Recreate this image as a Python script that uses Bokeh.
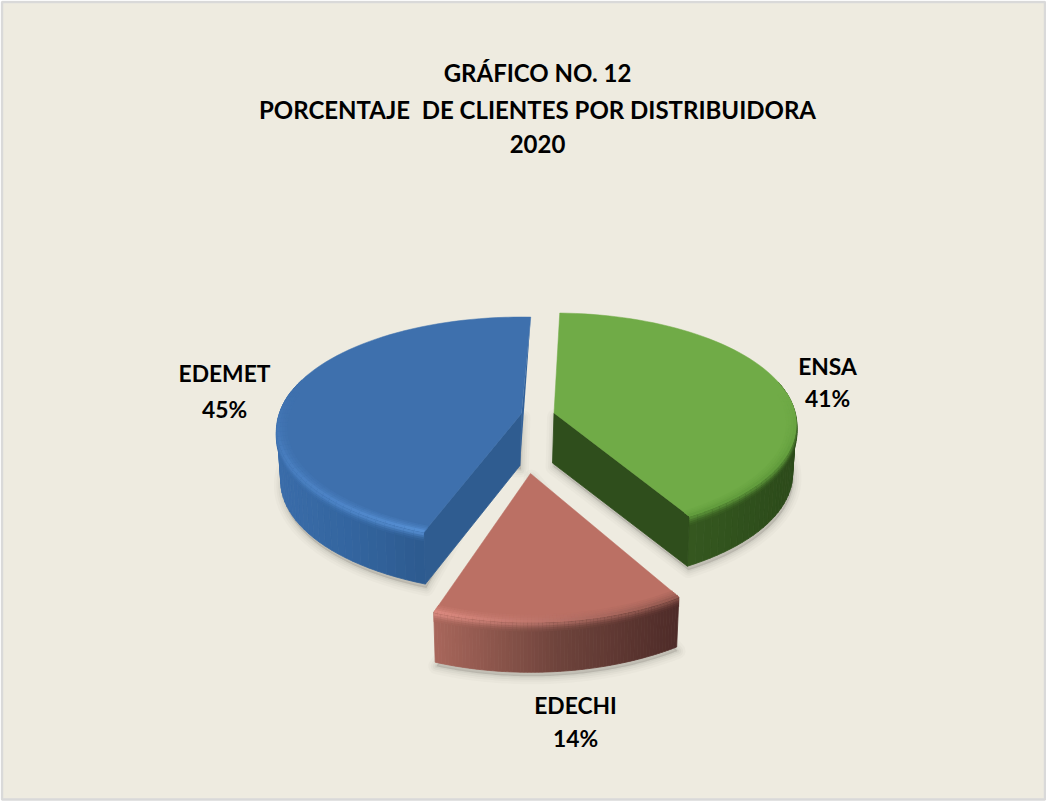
import math
from bokeh.plotting import figure
from bokeh.models import Range1d
from bokeh.core.properties import value
from bokeh.embed import file_html
from bokeh.resources import INLINE

# ---- data ----
categories = ["ENSA", "EDECHI", "EDEMET"]
shares = [41, 14, 45]
title_lines = ["GRÁFICO NO. 12", "PORCENTAJE \u00a0DE CLIENTES POR DISTRIBUIDORA", "2020"]

# ---- layout / style ----
START_DEG = 2.5
BG = "#eeebe0"
FONT = value("Lato")
GEOM = {
    "ENSA":   dict(ax=553.5, ay=412.5, rx=241, ry=110, k=0.10, depth=50, rot=-1.0),
    "EDECHI": dict(ax=530, ay=473, rx=243, ry=122, k=0.18, depth=50, rot=-1.2),
    "EDEMET": dict(ax=521, ay=413, rx=242, ry=110, k=0.14, depth=52, rot=0.0),
}
STYLE = {
    "ENSA":   dict(top="#70ab47", stops=["#35581f", "#30511d", "#2c4a1a"],
                   rim=["#5f9a3b", "#5f9a3b"], back=None, cut="#2f4e1c", cut_edge=-1),
    "EDECHI": dict(top="#bb7064", stops=["#a8665b", "#6f443c", "#4e2b28"],
                   rim=["#e28f85", "#8b544b"], back=None, cut=None, cut_edge=None),
    "EDEMET": dict(top="#3e70ad", stops=["#3a6ca9", "#33659f", "#2d5a8f"],
                   rim=["#4a80c2", "#5b96dc"], back="#33629a", cut="#2f5c90", cut_edge=0),
}
LABELS = {"ENSA": (827, 365, 397), "EDECHI": (575, 704, 737), "EDEMET": (224, 372, 408)}
TITLE_POS = [(537, 72), (537, 109), (537, 143)]


def hex2rgb(c):
    return tuple(int(c[i:i + 2], 16) for i in (1, 3, 5))


def mix(a, b, t):
    ra, rb = hex2rgb(a), hex2rgb(b)
    return "#%02x%02x%02x" % tuple(round(x + (y - x) * t) for x, y in zip(ra, rb))


def ramp(stops, t):
    t = max(0.0, min(1.0, t)) * (len(stops) - 1)
    i = min(int(t), len(stops) - 2)
    return mix(stops[i], stops[i + 1], t - i)


def proj(g, theta, r=1.0, dy=0.0, xs=1.0):
    u, v = r * math.sin(theta), r * math.cos(theta)
    d = 1 + g["k"] * v
    return g["ax"] + xs * g["rx"] * u / d, g["ay"] - g["ry"] * v / d + dy


p = figure(width=1046, height=802, output_backend="svg", toolbar_location=None,
           x_range=Range1d(0, 1046), y_range=Range1d(802, 0),
           background_fill_color="#ffffff", border_fill_color="#ffffff",
           outline_line_color=None, min_border=0)
p.axis.visible = False
p.grid.visible = False
p.quad(left=[1.5], right=[1044.5], top=[1.5], bottom=[799], fill_color=BG,
       line_color="#d9d9d9", line_width=2.5)

total = sum(shares)
angle = math.radians(START_DEG)
N = 70
for name, share in zip(categories, shares):
    g, s = GEOM[name], STYLE[name]
    a0, a1 = angle, angle + 2 * math.pi * share / total
    angle = a1
    rot = math.radians(g["rot"])
    ths = [a0 + rot + (a1 - a0) * i / N for i in range(N + 1)]
    d = g["depth"]
    top = [proj(g, t) for t in ths]
    bot = [proj(g, t, dy=d, xs=0.985) for t in ths]
    apex = (g["ax"], g["ay"])
    apex_b = (g["ax"] - 1.5, g["ay"] + d)

    # soft shadow
    front = [i for i in range(N + 1) if math.cos(ths[i]) < 0.1]
    sil_x = [apex[0]] + [bot[i][0] for i in front] + [apex_b[0]]
    sil_y = [apex[1]] + [bot[i][1] for i in front] + [apex_b[1]]
    for w, al in [(16, 0.018), (11, 0.025), (7, 0.03), (3, 0.04)]:
        p.patch([x + 1 for x in sil_x], [y + 4 for y in sil_y], fill_color="#000000",
                fill_alpha=al, line_color="#000000", line_alpha=al, line_width=w,
                line_join="round")

    # outer rim (near part only), shaded by screen position
    xmin, xmax = min(q[0] for q in top), max(q[0] for q in top)
    if name == "EDEMET":
        xmax = top[0][0]
    if name == "ENSA":
        xmin = top[-1][0]
    qx, qy, qc = [], [], []
    for i in range(N):
        if math.cos((ths[i] + ths[i + 1]) / 2) > 0.3:
            continue
        xm = (top[i][0] + top[i + 1][0]) / 2
        c = ramp(s["stops"], (xm - xmin) / max(xmax - xmin, 1))
        qx.append([top[i][0], top[i + 1][0], bot[i + 1][0], bot[i][0]])
        qy.append([top[i][1], top[i + 1][1], bot[i + 1][1], bot[i][1]])
        qc.append(c)
    p.patches(qx, qy, fill_color=qc, line_color=qc, line_width=0.8)

    # cut face that looks towards the viewer
    if s["cut"]:
        e = s["cut_edge"]
        p.patch([apex[0], top[e][0], bot[e][0], apex_b[0]],
                [apex[1], top[e][1], bot[e][1], apex_b[1]],
                fill_color=s["cut"], line_color=s["cut"], line_width=0.8)
    if s["back"]:
        p.patch([top[-1][0], apex_b[0], apex[0]], [top[-1][1], apex_b[1], apex[1]],
                fill_color=s["back"], line_color=None)

    def bevel(layers):
        sx, sy, sc, sw = [], [], [], []
        for r, dy, strength, w in layers:
            for i in range(N):
                tm = (ths[i] + ths[i + 1]) / 2
                v = math.cos(tm)
                if v > 0.2:
                    continue
                fade = min(1.0, (0.2 - v) / 0.6)
                xm = (top[i][0] + top[i + 1][0]) / 2
                frac = (xm - xmin) / max(xmax - xmin, 1)
                side = ramp(s["stops"], frac)
                rim = ramp(s["rim"], frac)
                base = s["top"] if dy == 0 else side
                c = mix(base, rim, strength * fade)
                a = proj(g, ths[i], r=r, dy=dy)
                b = proj(g, ths[i + 1], r=r, dy=dy)
                sx.append([a[0], b[0]])
                sy.append([a[1], b[1]])
                sc.append(c)
                sw.append(w)
        p.multi_line(sx, sy, line_color=sc, line_width=sw)

    # bevel below the edge goes under the top face, bevel inside the edge over it
    bevel([(1.0, 8.0, 0.08, 2.5), (1.0, 6.0, 0.22, 2.5), (1.0, 4.0, 0.45, 2.5), (1.0, 2.0, 0.75, 2.5)])
    p.patch([apex[0]] + [q[0] for q in top], [apex[1]] + [q[1] for q in top],
            fill_color=s["top"], line_color=s["top"], line_width=0.5)
    bevel([(0.965, 0.0, 0.15, 3), (0.975, 0.0, 0.3, 3), (0.985, 0.0, 0.5, 3), (0.995, 0.0, 0.8, 3)])

# labels
for name, share in zip(categories, shares):
    x, y1, y2 = LABELS[name]
    p.text([x, x], [y1, y2], text=[name, f"{share}%"], text_font=FONT, text_font_style="bold",
           text_font_size="22.8px", text_color="#000000", text_align="center", text_baseline="middle")

p.text([q[0] for q in TITLE_POS], [q[1] for q in TITLE_POS], text=title_lines, text_font=FONT,
       text_font_style="bold", text_font_size="24px", text_color="#000000",
       text_align="center", text_baseline="middle")

open("out.html", "w").write(file_html(p, INLINE))
